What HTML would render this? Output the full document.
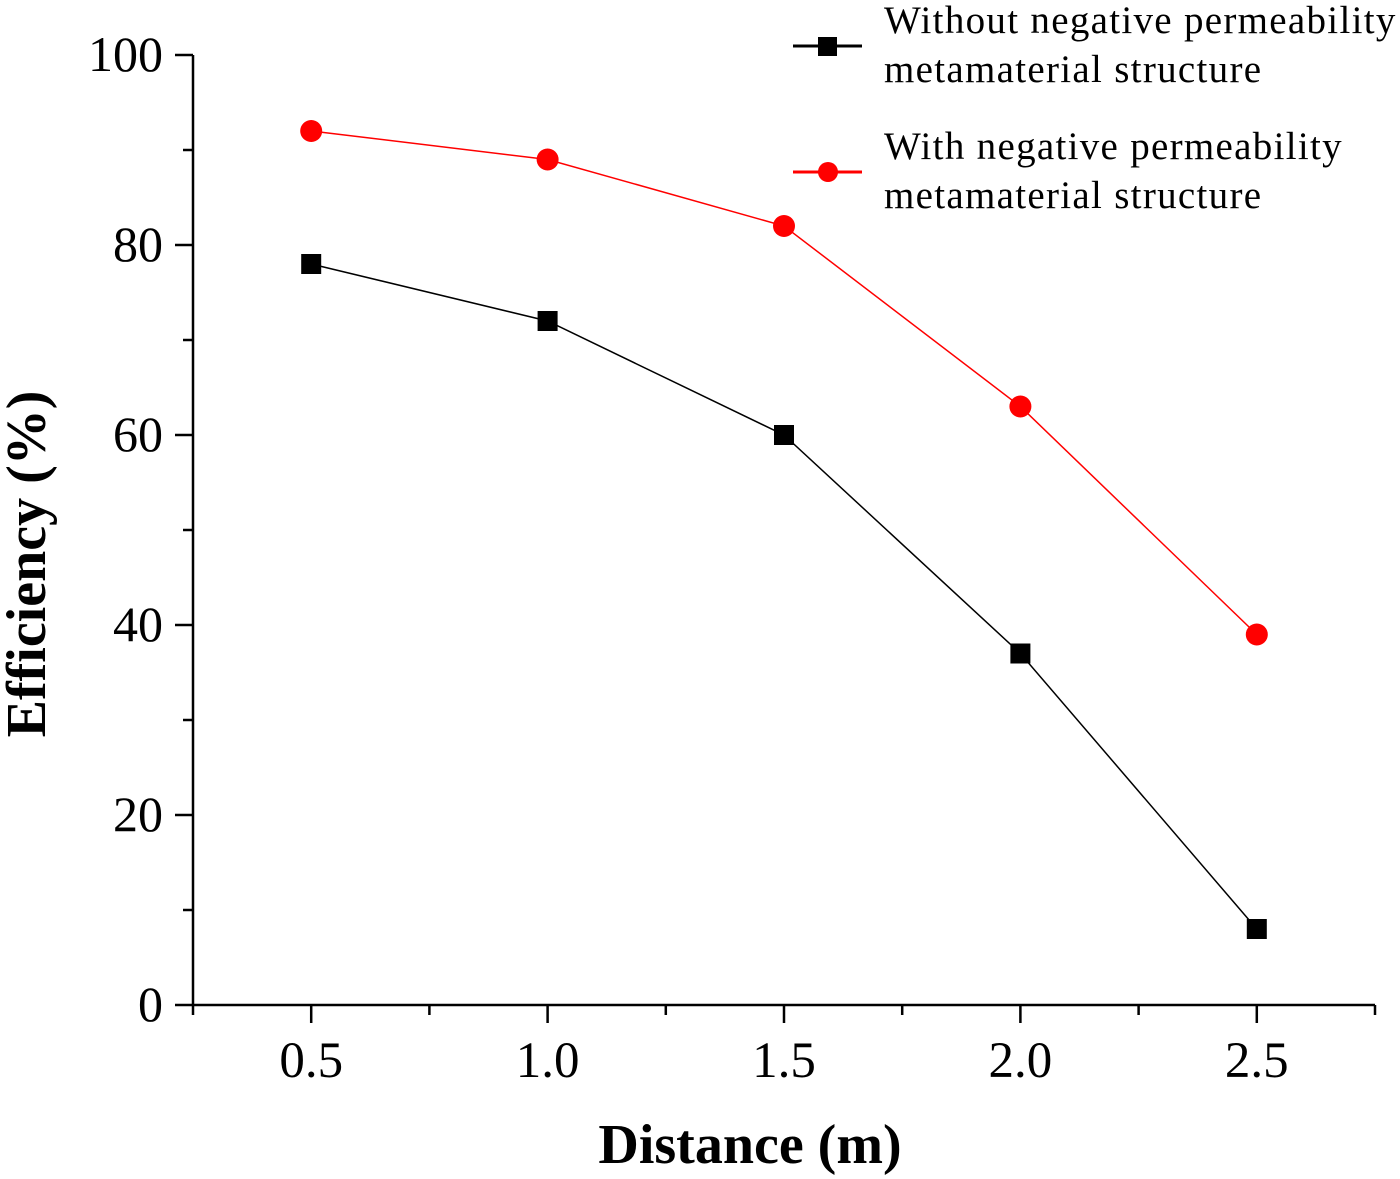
<!DOCTYPE html>
<html><head><meta charset="utf-8"><style>
html,body{margin:0;padding:0;background:#fff;}
svg{display:block;font-family:"Liberation Serif",serif;}
</style></head><body>
<svg id="chart" width="1400" height="1179" viewBox="0 0 1400 1179"></svg>
<script>
const categories=[0.5,1.0,1.5,2.0,2.5];
const seriesWithout=[78,72,60,37,8];
const seriesWith=[92,89,82,63,39];
const xTickLabels=["0.5","1.0","1.5","2.0","2.5"];
const yTickLabels=["0","20","40","60","80","100"];
const yTickValues=[0,20,40,60,80,100];

const NS="http://www.w3.org/2000/svg";
const svg=document.getElementById('chart');
const X0=193,X1=1375,Y0=1005,Y1=55;
const xMin=0.25,xMax=2.75,yMin=0,yMax=100;
function xs(v){return X0+(v-xMin)/(xMax-xMin)*(X1-X0);}
function ys(v){return Y0-(v-yMin)/(yMax-yMin)*(Y0-Y1);}
function mk(tag,attrs,parent){const e=document.createElementNS(NS,tag);for(const k in attrs)e.setAttribute(k,attrs[k]);(parent||svg).appendChild(e);return e;}

let e=mk('line',{x1:X0,y1:Y0,x2:X1,y2:Y0,stroke:'#000','stroke-width':2.5});


e=mk('line',{x1:X0,y1:Y0,x2:X0,y2:Y1,stroke:'#000','stroke-width':2.5});



for(let v=0;v<=100;v+=10){
  const major=v%20===0;
  e=mk('line',{x1:X0,y1:ys(v),x2:X0-(major?18:10),y2:ys(v),stroke:'#000','stroke-width':2.5});
  
  
}
yTickValues.forEach((v,i)=>{
  e=mk('text',{x:163,y:ys(v)+16,'text-anchor':'end','font-size':50});
  e.textContent=yTickLabels[i];
  
  
});
for(let v=0.25;v<=2.751;v+=0.25){
  const major=Math.abs((v*2)-Math.round(v*2))<1e-6;
  e=mk('line',{x1:xs(v),y1:Y0,x2:xs(v),y2:Y0+(major?18:10),stroke:'#000','stroke-width':2.5});
  
  
}
categories.forEach((v,i)=>{
  e=mk('text',{x:xs(v),y:1077,'text-anchor':'middle','font-size':51});
  e.textContent=xTickLabels[i];
  
  
});
e=mk('text',{x:750,y:1163,'text-anchor':'middle','font-size':56,'font-weight':'bold'});
e.textContent='Distance (m)';


e=mk('text',{x:0,y:0,'text-anchor':'middle','font-size':56,'font-weight':'bold',transform:'translate(45,564) rotate(-90)'});
e.textContent='Efficiency (%)';



function series(vals,color,shape,name){
  const pts=categories.map((c,i)=>xs(c)+','+ys(vals[i])).join(' ');
  let l=mk('polyline',{points:pts,fill:'none',stroke:color,'stroke-width':1.5});
  
  
  categories.forEach((c,i)=>{
    let m;
    if(shape==='square') m=mk('rect',{x:xs(c)-10,y:ys(vals[i])-10,width:20,height:20,fill:color});
    else m=mk('circle',{cx:xs(c),cy:ys(vals[i]),r:11,fill:color});
    
    
  });
}
series(seriesWithout,'#000','square','without-metamaterial');
series(seriesWith,'#ff0000','circle','with-metamaterial');

e=mk('line',{x1:793,y1:46,x2:862,y2:46,stroke:'#000','stroke-width':3});


e=mk('rect',{x:818,y:37,width:19,height:19,fill:'#000'});


e=mk('line',{x1:793,y1:172,x2:862,y2:172,stroke:'#ff0000','stroke-width':3});


e=mk('circle',{cx:828,cy:172,r:10,fill:'#ff0000'});


[['Without negative permeability',33],['metamaterial structure',82],['With negative permeability',159],['metamaterial structure',208]].forEach((t,i)=>{
  e=mk('text',{x:884,y:t[1],'font-size':39,'letter-spacing':1.3});
  e.textContent=t[0];
  
  
});
</script>
</body></html>
